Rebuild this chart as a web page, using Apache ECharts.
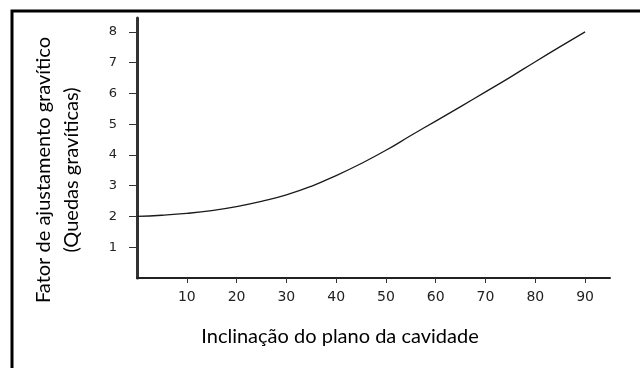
<!DOCTYPE html>
<html>
<head>
<meta charset="utf-8">
<style>
  html, body { margin: 0; padding: 0; background: #fff; }
  #chart { width: 640px; height: 368px; }
</style>
<script src="https://cdn.jsdelivr.net/npm/echarts@6/dist/echarts.min.js"></script>
</head>
<body>
<div id="chart"></div>
<script>
// Inclination of the cavity plane (degrees)
const inclination = [0, 5, 10, 15, 20, 25, 30, 35, 40, 45, 50, 55, 60, 65, 70, 75, 80, 85, 90];
// Gravity adjustment factor
const factor = [2.0, 2.04, 2.1, 2.19, 2.32, 2.49, 2.7, 2.98, 3.33, 3.72, 4.15, 4.63, 5.1, 5.57, 6.05, 6.53, 7.03, 7.52, 8.0];

const xTicks = [10, 20, 30, 40, 50, 60, 70, 80, 90];
const yTicks = [1, 2, 3, 4, 5, 6, 7, 8];

const xTitle = 'Inclinação do plano da cavidade';
const yTitle = 'Fator de ajustamento gravítico';
const ySubTitle = '(Quedas gravíticas)';

const chart = echarts.init(document.getElementById('chart'), null, { renderer: 'canvas' });

const titleFont = { fontFamily: 'Lato', fontSize: 20, fill: '#000' };

chart.setOption({
  animation: false,
  backgroundColor: '#fff',
  grid: { left: 137, right: 30, top: 18, bottom: 90, containLabel: false },
  xAxis: {
    type: 'value',
    min: 0,
    max: 95,
    axisLine: { show: true, lineStyle: { color: '#222', width: 2 } },
    axisTick: { show: true, inside: false, length: 5, customValues: xTicks, lineStyle: { color: '#333', width: 1 } },
    axisLabel: {
      customValues: xTicks,
      margin: 12,
      color: '#222',
      fontFamily: 'DejaVu Sans',
      fontSize: 14
    },
    splitLine: { show: false }
  },
  yAxis: {
    type: 'value',
    min: 0,
    max: 8.45,
    axisLine: { show: true, lineStyle: { color: '#333', width: 3 } },
    axisTick: { show: true, inside: false, length: 8, customValues: yTicks, lineStyle: { color: '#333', width: 1 } },
    axisLabel: {
      customValues: yTicks,
      margin: 20,
      color: '#222',
      fontFamily: 'DejaVu Sans',
      fontSize: 13
    },
    splitLine: { show: false }
  },
  series: [{
    type: 'line',
    data: inclination.map((x, i) => [x, factor[i]]),
    smooth: true,
    showSymbol: false,
    lineStyle: { color: '#1a1a1a', width: 1.3 }
  }],
  graphic: [
    {
      type: 'polyline',
      shape: { points: [[12, 368], [12, 11], [640, 11]] },
      style: { stroke: '#000', lineWidth: 3, fill: null }
    },
    {
      type: 'text',
      x: 44, y: 170,
      rotation: Math.PI / 2,
      style: Object.assign({ text: yTitle, align: 'center', verticalAlign: 'middle' }, titleFont)
    },
    {
      type: 'text',
      x: 72, y: 170,
      rotation: Math.PI / 2,
      style: Object.assign({ text: ySubTitle, align: 'center', verticalAlign: 'middle' }, titleFont)
    },
    {
      type: 'text',
      x: 340, y: 337,
      style: Object.assign({ text: xTitle, align: 'center', verticalAlign: 'middle' }, titleFont)
    }
  ]
});
</script>
</body>
</html>
